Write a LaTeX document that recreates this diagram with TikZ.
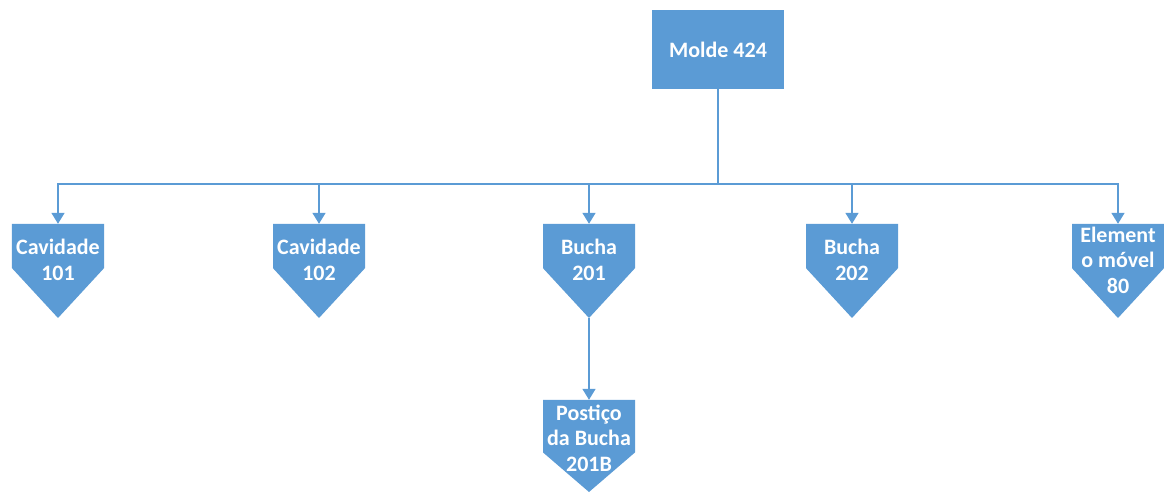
\documentclass[tikz,border=0pt]{standalone}
\usepackage{fontspec}
\setmainfont{Carlito}
\usetikzlibrary{arrows.meta,calc}

\definecolor{mblue}{HTML}{5B9BD5}
\definecolor{lblue}{HTML}{5B9BD5}

\tikzset{
  topbox/.style={fill=mblue, draw=none, minimum width=132bp, minimum height=79bp,
    inner sep=0pt, text=white, font=\bfseries\fontsize{22bp}{26bp}\selectfont},
  % down-pointing pentagon; #1 = fraction of the height where the point starts
  chevron/.style={minimum width=92bp, minimum height=94bp, inner sep=0pt, draw=none,
    path picture={\fill[mblue]
      (path picture bounding box.north west) --
      (path picture bounding box.north east) --
      ($(path picture bounding box.north east)!#1!(path picture bounding box.south east)$) --
      (path picture bounding box.south) --
      ($(path picture bounding box.north west)!#1!(path picture bounding box.south west)$) -- cycle;}},
  chevron/.default=0.47,
  txt/.style={text=white, align=center, inner sep=0pt,
    font=\bfseries\fontsize{22bp}{25.5bp}\selectfont},
  link/.style={draw=lblue, line width=1.6bp},
  tolink/.style={link, -{Triangle[width=13bp,length=11bp]}},
}

\begin{document}
\begin{tikzpicture}[x=1bp,y=-1bp]
  \useasboundingbox (0,0) rectangle (1164,496);

  % root
  \node[topbox] (molde) at (718,49.5) {Molde 424};

  % first level
  \node[chevron, label={[txt,yshift=11bp]center:Cavidade\\101}] (c101) at (58,271) {};
  \node[chevron, label={[txt,yshift=11bp]center:Cavidade\\102}] (c102) at (319,271) {};
  \node[chevron, label={[txt,yshift=11bp]center:Bucha\\201}] (b201) at (589,271) {};
  \node[chevron, label={[txt,yshift=11bp]center:Bucha\\202}] (b202) at (852,271) {};
  \node[chevron, label={[txt,yshift=11bp]center:Element\\o móvel\\80}] (el80) at (1118,271) {};

  % second level
  \node[chevron=0.57, minimum height=92bp,
        label={[txt,yshift=8bp]center:Postiço\\da Bucha\\201B}] (p201b) at (589,446) {};

  % bus junction under the root
  \coordinate (bus) at (718,184);

  \draw[link] (molde.south) -- (bus);
  \draw[tolink] (bus) -| (c101.north);
  \draw[tolink] (bus) -| (c102.north);
  \draw[tolink] (bus) -| (b201.north);
  \draw[tolink] (bus) -| (b202.north);
  \draw[tolink] (bus) -| (el80.north);
  \draw[tolink] (b201.south) -- (p201b.north);
\end{tikzpicture}
\end{document}
